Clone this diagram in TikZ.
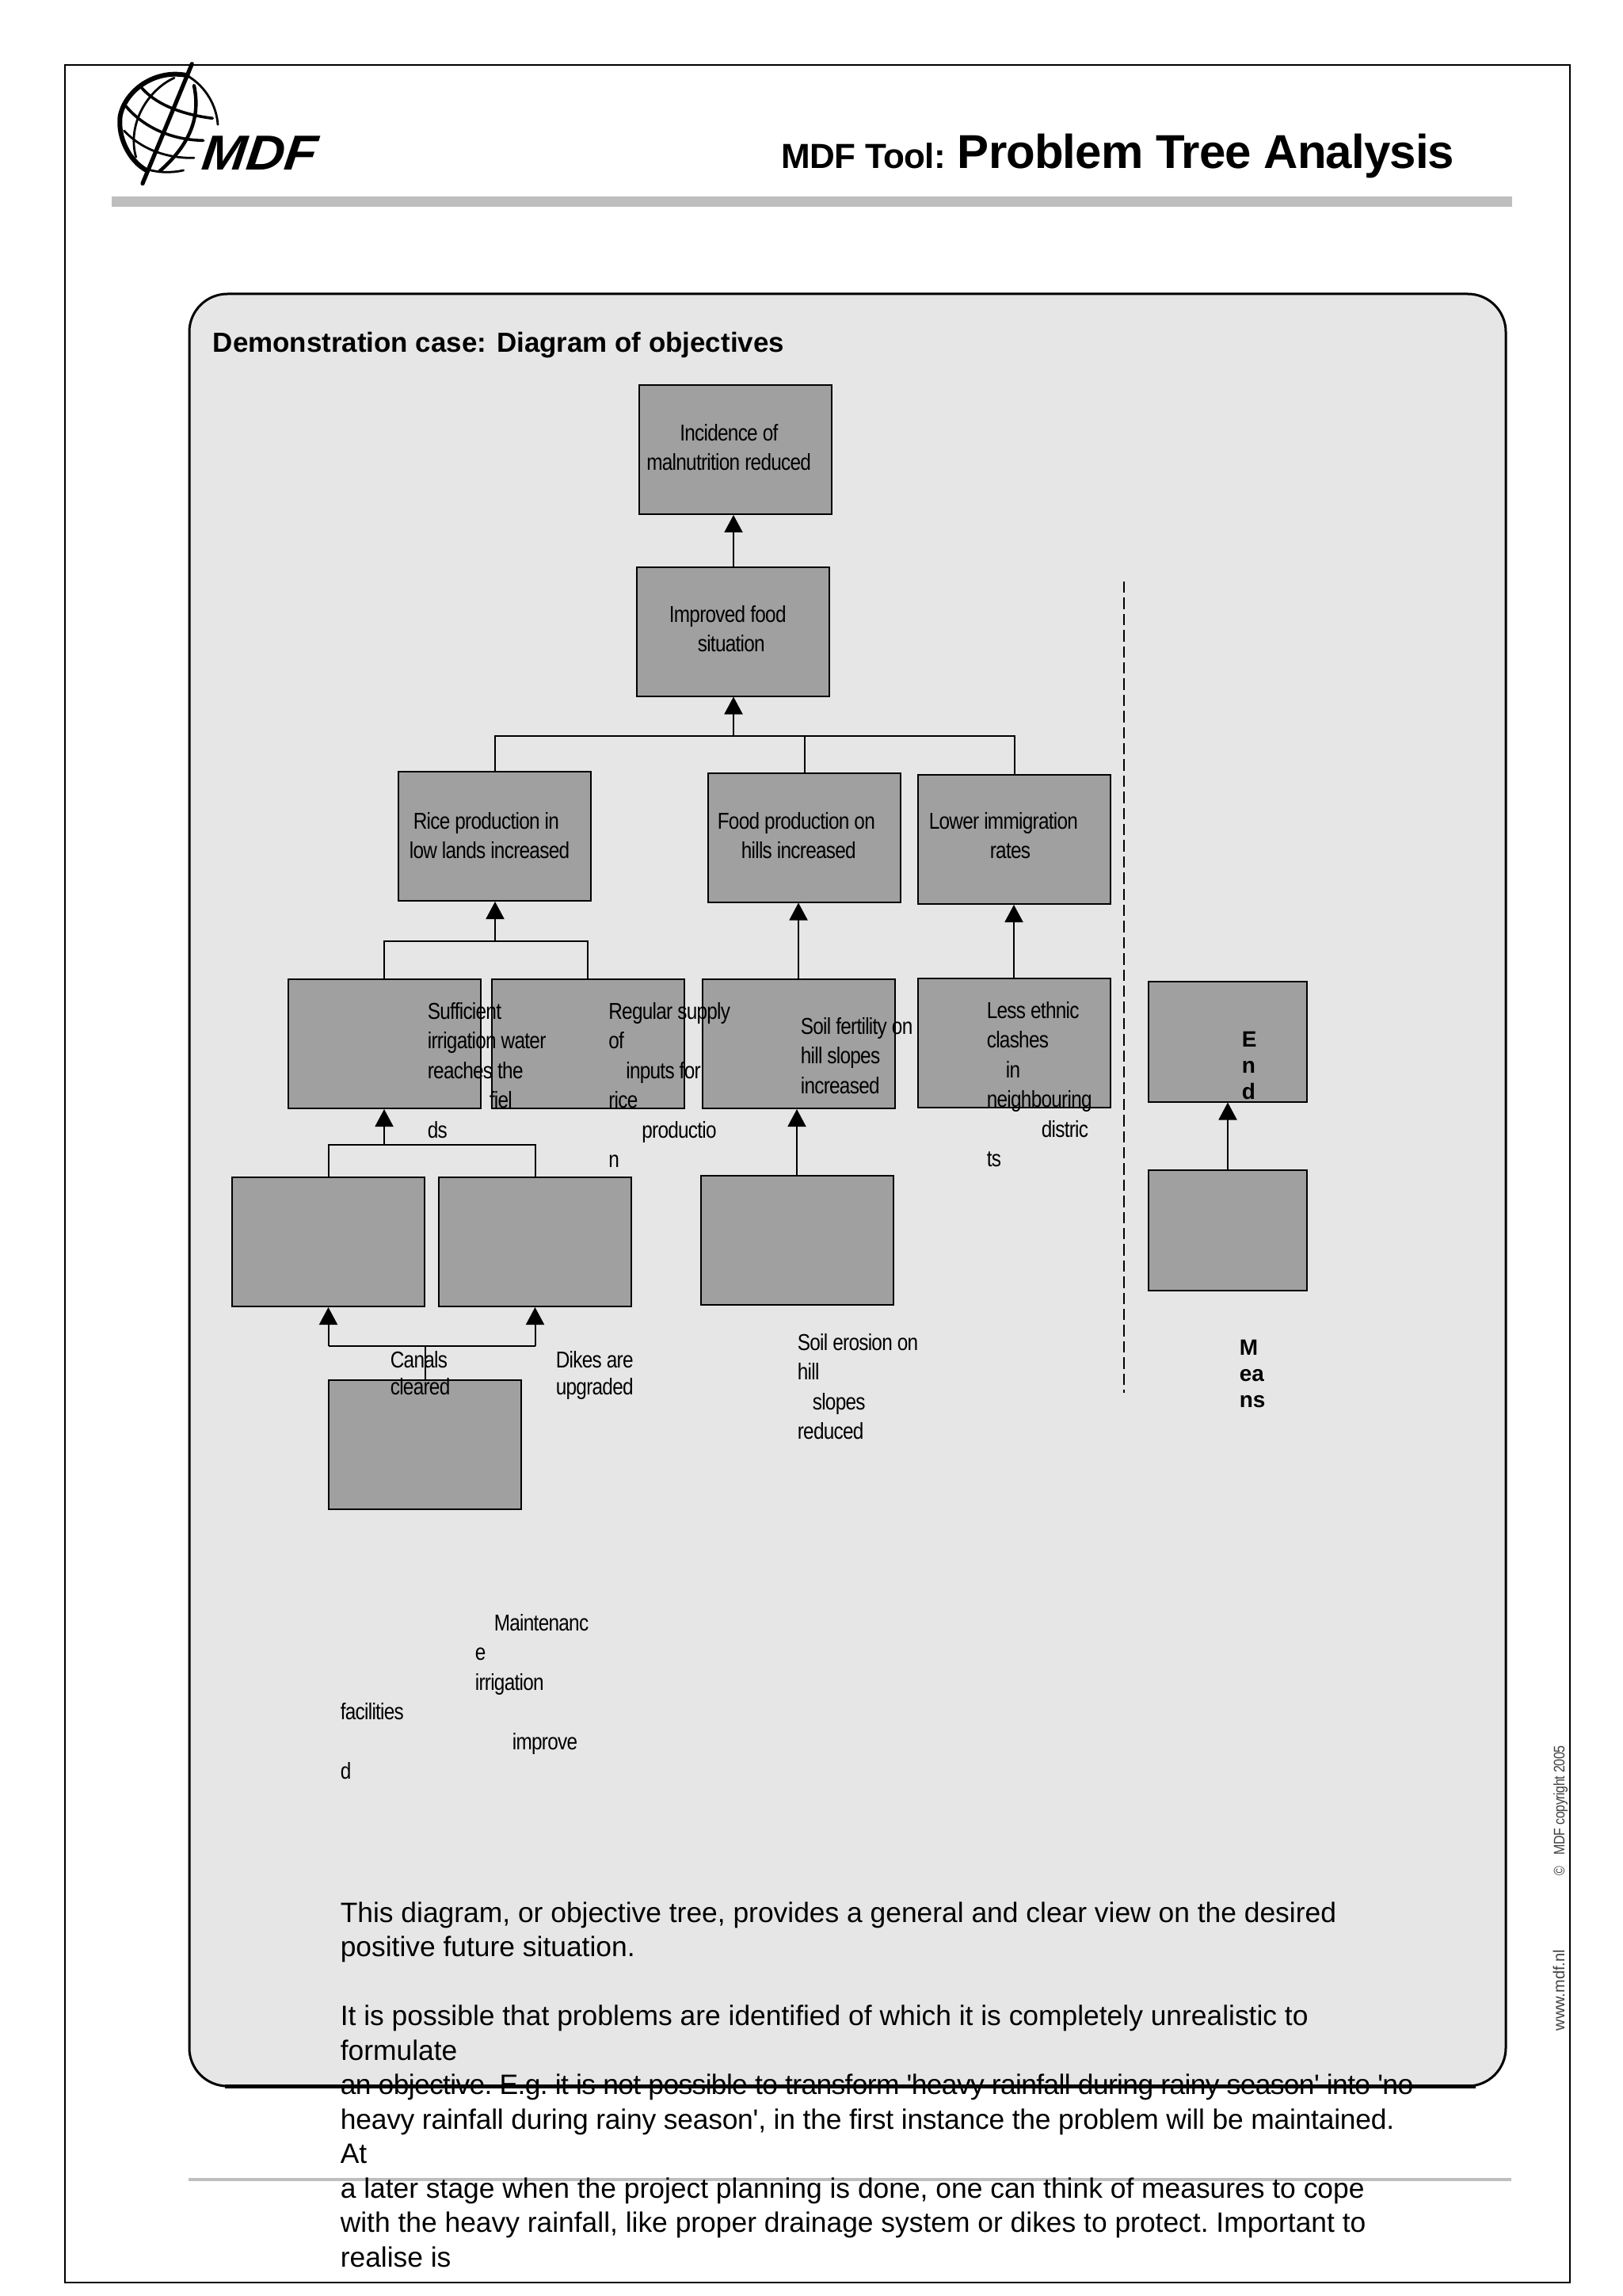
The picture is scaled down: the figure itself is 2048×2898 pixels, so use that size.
\documentclass[tikz,border=0pt]{standalone}
\usepackage{fontspec}
\setmainfont{Liberation Sans}
\newfontfamily\boxfont[FakeStretch=0.84, LetterSpace=-2.5]{Liberation Sans}
\newfontfamily\headfont[LetterSpace=-1.5]{Liberation Sans}
\newfontfamily\bodyfont{Liberation Sans}
\newfontfamily\logofont[FakeStretch=1.08, FakeSlant=0.12]{Liberation Sans}
\usetikzlibrary{arrows.meta}

\begin{document}
\begin{tikzpicture}[x=0.25pt, y=-0.25pt, line join=miter,
    objbox/.style={draw=black, fill=boxgray, line width=0.5pt, inner sep=0pt, minimum width=60.75pt, minimum height=40.75pt},
    sidebox/.style={objbox, minimum width=50pt, minimum height=38pt},
    objtext/.style={anchor=north west, inner sep=0pt, yshift=-0.9pt, align=left, font=\boxfont\fontsize{7.25}{9.375}\selectfont, execute at begin node={\rule{0pt}{6.9pt}}},
    sidetext/.style={anchor=north west, inner sep=0pt, yshift=-0.9pt, align=left, font=\bfseries\fontsize{7}{8.25}\selectfont, execute at begin node={\rule{0pt}{6.9pt}}},
    wire/.style={line width=0.5pt},
    arr/.style={wire, -{Triangle[length=5.5pt, width=5.75pt]}},
  ]
  \definecolor{boxgray}{HTML}{A0A0A0}
  \definecolor{panelgray}{HTML}{E6E6E6}
  \definecolor{rulegray}{HTML}{BEBEBE}
  \useasboundingbox (0,0) rectangle (2048,2898);

  % Page frame and rules
  \draw[line width=0.5pt] (82,82) rectangle (1982,2881);
  \fill[rulegray] (141,248) rectangle (1909,261);
  \fill[rulegray] (238,2749) rectangle (1908,2753);

  % Logo
  \begin{scope}[shift={(130,70)}, scale=1/3, line cap=round]
    \draw[line width=1.5pt] (320,76) .. controls (200,50) and (85,130) .. (65,230) .. controls (55,310) and (100,400) .. (165,435);
    \draw[line width=0.7pt] (325,80) .. controls (390,120) and (430,190) .. (435,262);
    \draw[line width=1.3pt] (337,32) -- (150,485);
    \draw[line width=1.1pt] (345,115) .. controls (365,210) and (350,320) .. (215,438);
    \draw[line width=0.7pt] (270,85) .. controls (170,130) and (90,260) .. (125,385);
    \draw[line width=0.9pt] (140,115) .. controls (200,190) and (310,225) .. (415,238);
    \draw[line width=0.9pt] (85,190) .. controls (160,280) and (270,320) .. (380,322);
    \draw[line width=0.7pt] (80,285) .. controls (150,360) and (250,390) .. (345,388);
    \draw[line width=0.7pt] (165,430) .. controls (210,445) and (260,445) .. (305,435);
  \end{scope}
  \node[anchor=base west, inner sep=0pt, font=\logofont\bfseries\itshape\fontsize{15.5}{18}\selectfont] (logotext) at (253,215) {MDF};

  % Heading
  \node[anchor=base west, inner sep=0pt, font=\headfont\bfseries\fontsize{11}{13}\selectfont] (toolname) at (986,213) {MDF Tool:};
  \node[anchor=base west, inner sep=0pt, font=\headfont\bfseries\fontsize{15}{18}\selectfont] (toolhead) at (1208,213) {Problem Tree Analysis};

  % Panel
  \draw[fill=panelgray, line width=0.75pt, rounded corners=12pt] (239,371) rectangle (1901,2633);
  \draw[line width=1.25pt] (284,2633) -- (1863,2633);
  \node[anchor=base west, inner sep=0pt, font=\bfseries\fontsize{8.73}{10}\selectfont] (paneltitle) at (268,445) {Demonstration case: Diagram of objectives};

  % Boxes, top to bottom
  \node[objbox] (incidence) at (928,567.5) {};
  \node[objbox] (improved) at (925,797) {};
  \node[objbox] (rice) at (624.5,1055.5) {};
  \node[objbox] (food) at (1015.5,1057) {};
  \node[objbox] (lower) at (1280.5,1059.5) {};
  \node[objbox] (water) at (485,1317.5) {};
  \node[objbox] (inputs) at (742,1317.5) {};
  \node[objbox] (fertility) at (1008,1317.5) {};
  \node[objbox] (ethnic) at (1280,1316.5) {};
  \node[objbox] (canals) at (414.5,1567.5) {};
  \node[objbox] (dikes) at (675.5,1567.5) {};
  \node[objbox] (erosion) at (1006,1565.5) {};
  \node[objbox] (upkeep) at (536.5,1823.5) {};
  \node[sidebox] (endbox) at (1550,1314.5) {};
  \node[sidebox] (meansbox) at (1550,1553) {};

  % Junctions
  \coordinate (jtop) at (926,929);
  \coordinate (jrice) at (625,1188);
  \coordinate (jwater) at (485,1444.5);
  \coordinate (jlow) at (536.5,1699);
  \coordinate (dashtop) at (1419,734);
  \coordinate (dashend) at (1419,1758);

  % Connectors
  \draw[arr] (jtop |- improved.north) -- (jtop |- incidence.south);
  \draw[arr] (jtop) -- (jtop |- improved.south);
  \draw[wire] (rice.north) |- (jtop) -| (lower.north);
  \draw[wire] (food.north) -- (food.north |- jtop);
  \draw[arr] (jrice) -- (jrice |- rice.south);
  \draw[wire] (water.north) |- (jrice) -| (inputs.north);
  \draw[arr] (fertility.north) -- (fertility.north |- food.south);
  \draw[arr] (ethnic.north) -- (ethnic.north |- lower.south);
  \draw[arr] (jwater) -- (jwater |- water.south);
  \draw[wire] (canals.north) |- (jwater) -| (dikes.north);
  \draw[arr] (erosion.north) -- (erosion.north |- fertility.south);
  \draw[arr] (canals.south |- jlow) -- (canals.south);
  \draw[arr] (dikes.south |- jlow) -- (dikes.south);
  \draw[wire] (canals.south |- jlow) -- (dikes.south |- jlow);
  \draw[wire] (upkeep.north) -- (jlow);
  \draw[arr] (meansbox.north) -- (meansbox.north |- endbox.south);
  \draw[wire, dash pattern=on 3.6pt off 1.5pt] (dashtop) -- (dashend);

  % Box texts, set apart from their boxes
  \node[objtext] (incidencetext) at (815.5,531) {\hspace*{10.5pt}Incidence of\\malnutrition reduced};
  \node[objtext] (improvedtext) at (844,760) {Improved food\\\hspace*{9pt}situation};
  \node[objtext] (ricetext) at (521,1021) {Rice production in\\\hspace*{-1.25pt}low lands increased};
  \node[objtext] (foodtext) at (905,1021) {Food production on\\\hspace*{7.5pt}hills increased};
  \node[objtext] (lowertext) at (1172,1021) {Lower immigration\\\hspace*{19.25pt}rates};
  \node[objtext] (watertext) at (539,1261) {Sufficient\\irrigation water\\reaches the\\\hspace*{19.5pt}fiel\\ds};
  \node[objtext] (inputstext) at (767.5,1261) {Regular supply\\of\\\hspace*{5.5pt}inputs for\\rice\\\hspace*{10.5pt}productio\\n};
  \node[objtext] (fertilitytext) at (1010,1280) {Soil fertility on\\hill slopes\\increased};
  \node[objtext] (ethnictext) at (1245,1260) {Less ethnic\\clashes\\\hspace*{6pt}in\\neighbouring\\\hspace*{17.25pt}distric\\ts};
  \node[objtext, font=\boxfont\fontsize{7.25}{8.5}\selectfont] (canalstext) at (492,1701) {Canals\\cleared};
  \node[objtext, font=\boxfont\fontsize{7.25}{8.5}\selectfont] (dikestext) at (701,1701) {Dikes are\\upgraded};
  \node[objtext] (erosiontext) at (1006,1679) {Soil erosion on\\hill\\\hspace*{4.75pt}slopes\\reduced};
  \node[objtext] (upkeeptext) at (429,2033) {\hspace*{48.5pt}Maintenanc\\\hspace*{42.5pt}e\\\hspace*{42.5pt}irrigation\\facilities\\\hspace*{54.25pt}improve\\d};
  \node[sidetext] (endtext) at (1567,1298) {E\\n\\d};
  \node[sidetext] (meanstext) at (1564,1687) {M\\ea\\ns};

  % Body text, running over the panel edge
  \node[anchor=north west, inner sep=0pt, align=left, font=\bodyfont\frenchspacing\fontsize{8.85}{10.875}\selectfont, execute at begin node={\rule{0pt}{6pt}}] (bodytext) at (429,2400) {This diagram, or objective tree, provides a general and clear view on the desired\\positive future situation.\\[10.875pt]It is possible that problems are identified of which it is completely unrealistic to\\formulate\\{\addfontfeature{LetterSpace=-1.8}an objective. E.g. it is not possible to transform 'heavy rainfall during rainy season' into 'no}\\{\addfontfeature{LetterSpace=-0.6}heavy rainfall during rainy season', in the first instance the problem will be maintained.}\\At\\a later stage when the project planning is done, one can think of measures to cope\\with the heavy rainfall, like proper drainage system or dikes to protect. Important to\\realise is};

  % Side notes
  \node[rotate=90, anchor=base west, inner sep=0pt, text=black!75, font=\boxfont\fontsize{4.8}{6}\selectfont] (copynote) at (1975,2368) {©\hspace{3.5pt}MDF copyright 2005};
  \node[rotate=90, anchor=base west, inner sep=0pt, text=black!75, font=\fontsize{5}{6}\selectfont] (webnote) at (1975,2564) {www.mdf.nl};
\end{tikzpicture}
\end{document}
